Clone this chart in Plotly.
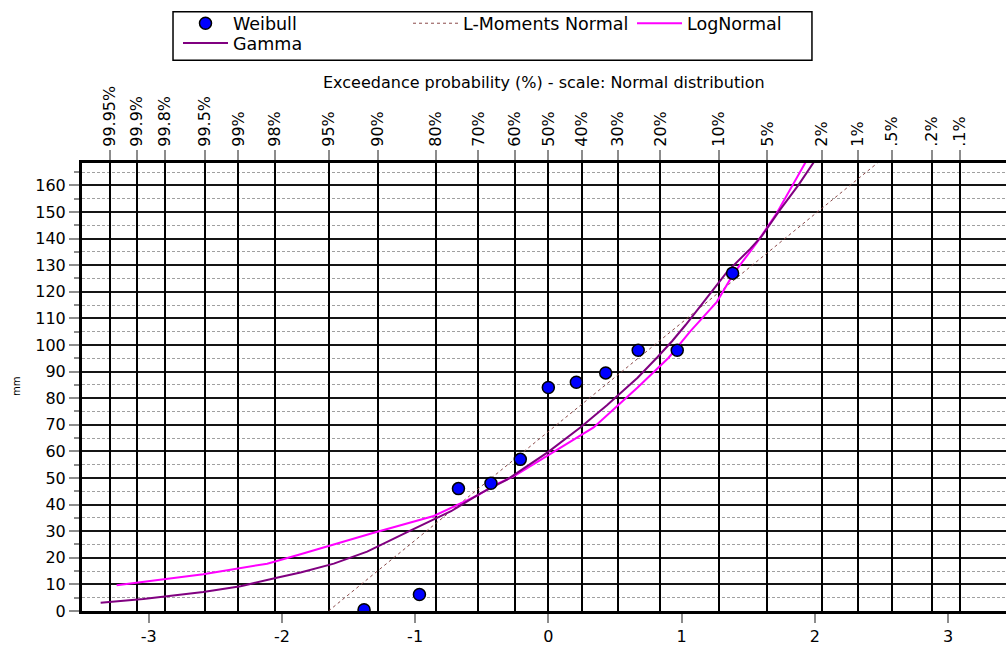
from statistics import NormalDist

import plotly.graph_objects as go

FONT = "DejaVu Sans"

# Annual maxima (mm), largest first
weibull_mm = [127.0, 98.0, 98.0, 89.5, 86.0, 84.0, 57.0, 48.0, 46.0, 6.2, 0.5]

# Top axis: exceedance probabilities and their labels
exceed_pct = [99.95, 99.9, 99.8, 99.5, 99, 98, 95, 90, 80, 70, 60, 50,
              40, 30, 20, 10, 5, 2, 1, 0.5, 0.2, 0.1]
exceed_lbl = ["99.95%", "99.9%", "99.8%", "99.5%", "99%", "98%", "95%", "90%",
              "80%", "70%", "60%", "50%", "40%", "30%", "20%", "10%", "5%",
              "2%", "1%", ".5%", ".2%", ".1%"]

# Bottom axis (standard normal variate) and y ticks
z_ticks = [-3, -2, -1, 0, 1, 2, 3]
z_labels = ["-3", "-2", "-1", "0", "1", "2", "3"]
mm_ticks = list(range(0, 161, 10))
mm_minor = list(range(5, 170, 10))

# Fitted distributions, as (normal variate, mm) pairs
lmom_z = [-1.65, 2.47]
lmom_mm = [0.0, 168.4]

lognorm_z = [-3.24, -2.59, -2.11, -1.86, -1.31, -0.86, -0.52, -0.41, -0.26, 0.0,
             0.34, 0.67, 0.903, 1.065, 1.265, 1.39, 1.566, 1.716, 1.84, 1.94]
lognorm_mm = [9.7, 13.8, 17.8, 21.3, 29.4, 35.7, 43.7, 47.2, 50.6, 58.7,
              69.0, 84.0, 95.2, 105.1, 116.2, 126.8, 138.5, 149.7, 160.9, 169.5]

gamma_z = [-3.36, -3.04, -2.59, -2.31, -2.03, -1.86, -1.61, -1.36, -1.04, -0.73,
           -0.51, -0.31, 0.0, 0.24, 0.44, 0.67, 0.82, 0.93, 1.03, 1.2,
           1.34, 1.515, 1.603, 1.74, 1.878, 2.003]
gamma_mm = [3.1, 4.5, 7.1, 9.3, 12.6, 14.5, 17.8, 22.3, 30.1, 37.5,
            44.2, 49.4, 59.8, 69.0, 77.3, 87.7, 95.5, 101.5, 107.5, 118.5,
            127.4, 136.1, 141.0, 150.9, 160.2, 169.5]

nd = NormalDist()
n = len(weibull_mm)
# Weibull plotting position i/(n+1) as exceedance probability
weibull_z = [nd.inv_cdf(1 - (i + 1) / (n + 1)) for i in range(n)]
top_z = [nd.inv_cdf(1 - p / 100.0) for p in exceed_pct]

x_range = [-3.5, 3.435]
y_range = [0, 168.4]

fig = go.Figure()
fig.add_trace(go.Scatter(
    x=lmom_z, y=lmom_mm, mode="lines", name="L-Moments Normal",
    line=dict(color="#8B4A4A", width=1, dash="dot"),
    legend="legend", legendrank=2, legendwidth=164))
fig.add_trace(go.Scatter(
    x=lognorm_z, y=lognorm_mm, mode="lines", name="LogNormal",
    line=dict(color="#FF00FF", width=2),
    legend="legend", legendrank=3, legendwidth=120))
fig.add_trace(go.Scatter(
    x=gamma_z, y=gamma_mm, mode="lines", name="Gamma",
    line=dict(color="#800080", width=2),
    legend="legend2"))
fig.add_trace(go.Scatter(
    x=weibull_z, y=weibull_mm, mode="markers", name="Weibull",
    marker=dict(symbol="circle", size=12, color="#0000FF",
                line=dict(color="black", width=1.5)),
    legend="legend", legendrank=1, legendwidth=170))
# carrier for the probability axis on top
fig.add_trace(go.Scatter(x=[None], y=[None], xaxis="x2", showlegend=False,
                         hoverinfo="skip"))

tick_grey = "#8c8c8c"

fig.update_layout(
    width=1006, height=646,
    margin=dict(l=82, r=0, t=163, b=30),
    plot_bgcolor="white", paper_bgcolor="white",
    font=dict(family=FONT, color="black"),
    xaxis=dict(
        range=x_range, tickvals=z_ticks, ticktext=z_labels, ticks="outside",
        ticklen=9, tickwidth=1.5, tickcolor=tick_grey, showgrid=False,
        zeroline=False, showline=True, linecolor="black", linewidth=3,
        tickfont=dict(size=16)),
    xaxis2=dict(
        overlaying="x", side="top", range=x_range, tickvals=top_z,
        ticktext=exceed_lbl, tickangle=-90, ticks="outside", ticklen=10,
        tickwidth=1.5, tickcolor=tick_grey, showgrid=True, gridcolor="black",
        gridwidth=2, zeroline=False, showline=True, linecolor="black",
        linewidth=3, tickfont=dict(size=16)),
    yaxis=dict(
        range=y_range, tickvals=mm_ticks, ticks="outside", ticklen=10,
        tickwidth=1.5, tickcolor=tick_grey, showgrid=True, gridcolor="#151515",
        gridwidth=1.5, zeroline=False, showline=True, linecolor="black",
        linewidth=3, tickfont=dict(size=16),
        minor=dict(tickvals=mm_minor, ticks="outside", ticklen=5,
                   tickcolor=tick_grey, tickwidth=1.5, showgrid=True,
                   gridcolor="#a0a0a0", gridwidth=1, griddash="3px,2px")),
    legend=dict(
        orientation="h", x=0.1039, xanchor="left", y=1.3519, yanchor="top",
        entrywidthmode="pixels", itemwidth=45,
        font=dict(size=17.5), bgcolor="rgba(0,0,0,0)", borderwidth=0),
    legend2=dict(
        orientation="h", x=0.1039, xanchor="left", y=1.3077, yanchor="top",
        itemwidth=45, font=dict(size=17.5), bgcolor="rgba(0,0,0,0)",
        borderwidth=0),
    shapes=[dict(type="rect", xref="paper", yref="paper",
                 x0=0.0985, x1=0.790, y0=1.2296, y1=1.3377,
                 line=dict(color="black", width=1.5), fillcolor="white",
                 layer="below")],
    annotations=[
        dict(text="Exceedance probability (%) - scale: Normal distribution",
             xref="paper", yref="paper", x=0.5, y=1.1788, xanchor="center",
             yanchor="middle", showarrow=False, font=dict(size=16)),
        dict(text="mm", xref="paper", yref="paper", x=-0.0714, y=0.5,
             xanchor="center", yanchor="middle", textangle=-90,
             showarrow=False, font=dict(size=10)),
    ],
    showlegend=True,
)

fig.write_html("out.html")
